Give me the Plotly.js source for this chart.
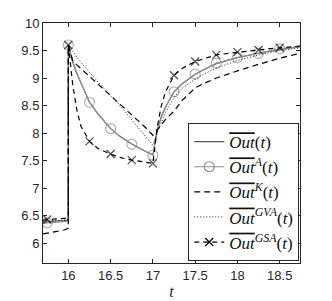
<!DOCTYPE html>
<html>
<head>
<meta charset="utf-8">
<script src="https://cdn.plot.ly/plotly-3.0.1.min.js"></script>
<style>html,body{margin:0;padding:0;background:#fff;}#chart{width:332px;height:301px;}</style>
</head>
<body>
<div id="chart"></div>
<script>
// time samples
const t = [15.7, 15.75, 15.85, 15.95, 15.999, 16, 16.05, 16.1, 16.15, 16.25, 16.35, 16.5, 16.6, 16.75, 16.9, 17, 17.05, 17.1, 17.15, 17.25, 17.35, 17.5, 17.6, 17.75, 17.9, 18, 18.25, 18.5, 18.74];
// series values
const outExact = [6.38, 6.39, 6.40, 6.41, 6.42, 9.6, 9.30, 9.08, 8.90, 8.56, 8.35, 8.08, 7.95, 7.80, 7.68, 7.60, 8.05, 8.30, 8.48, 8.75, 8.90, 9.07, 9.15, 9.26, 9.33, 9.37, 9.45, 9.52, 9.57];
const outA     = [6.36, 6.37, 6.38, 6.39, 6.40, 9.6, 9.31, 9.09, 8.91, 8.56, 8.35, 8.08, 7.95, 7.80, 7.68, 7.60, 8.04, 8.29, 8.47, 8.75, 8.90, 9.07, 9.15, 9.27, 9.33, 9.37, 9.45, 9.53, 9.57];
const outK     = [6.17, 6.18, 6.21, 6.24, 6.27, 9.6, 9.32, 9.24, 9.17, 9.03, 8.90, 8.68, 8.55, 8.33, 8.12, 7.96, 8.05, 8.15, 8.25, 8.40, 8.60, 8.82, 8.90, 9.00, 9.08, 9.13, 9.25, 9.36, 9.45];
const outGVA   = [6.40, 6.40, 6.41, 6.42, 6.43, 9.6, 9.48, 9.38, 9.28, 9.10, 8.93, 8.68, 8.52, 8.24, 7.96, 7.78, 8.00, 8.20, 8.38, 8.65, 8.82, 8.98, 9.07, 9.18, 9.27, 9.32, 9.42, 9.50, 9.55];
const outGSA   = [6.42, 6.43, 6.44, 6.45, 6.45, 9.6, 8.90, 8.42, 8.12, 7.85, 7.72, 7.62, 7.56, 7.51, 7.48, 7.45, 8.10, 8.50, 8.75, 9.05, 9.18, 9.30, 9.35, 9.42, 9.45, 9.47, 9.51, 9.55, 9.58];
const xTicks = [16, 16.5, 17, 17.5, 18, 18.5];
const yTicks = [6, 6.5, 7, 7.5, 8, 8.5, 9, 9.5, 10];
const names = [
  '<span style="text-decoration:overline"><i>Out</i></span>(<i>t</i>)',
  '<span style="text-decoration:overline"><i>Out</i></span><sup><i>A</i></sup>(<i>t</i>)',
  '<span style="text-decoration:overline"><i>Out</i></span><sup><i>K</i></sup>(<i>t</i>)',
  '<span style="text-decoration:overline"><i>Out</i></span><sup><i>GVA</i></sup>(<i>t</i>)',
  '<span style="text-decoration:overline"><i>Out</i></span><sup><i>GSA</i></sup>(<i>t</i>)'
];

// marker shown every 0.25 time units
const mk = (s) => t.map(v => Math.abs(v * 4 - Math.round(v * 4)) < 1e-6 ? s : 0);

const styles = [
  {line: {color: '#555', width: 1.2}, mode: 'lines'},
  {line: {color: '#909090', width: 1.2}, mode: 'lines+markers', marker: {symbol: 'circle-open', color: '#909090', line: {width: 1.2}}},
  {line: {color: '#000', width: 1.2, dash: '6px,4px'}, mode: 'lines'},
  {line: {color: '#000', width: 0.9, dash: '1px,2px'}, mode: 'lines'},
  {line: {color: '#000', width: 1.2, dash: '5px,4px'}, mode: 'lines+markers', marker: {symbol: 'x-thin-open', color: '#000', line: {width: 1.2, color: '#000'}}}
];
const ys = [outExact, outA, outK, outGVA, outGSA];
const msz = [0, 10, 0, 0, 8];

const data = [];
ys.forEach((y, i) => {
  const s = styles[i];
  const tr = {x: t, y: y, type: 'scatter', mode: s.mode, line: s.line, showlegend: false, hoverinfo: 'skip'};
  if (s.marker) tr.marker = Object.assign({}, s.marker, {size: mk(msz[i])});
  data.push(tr);
});
ys.forEach((y, i) => {
  const s = styles[i];
  const tr = {x: [null], y: [null], type: 'scatter', mode: s.mode, line: s.line, name: names[i], showlegend: true};
  if (s.marker) tr.marker = Object.assign({}, s.marker, {size: msz[i]});
  data.push(tr);
});

const axisCommon = {
  showline: true, linecolor: '#262626', linewidth: 1, mirror: 'ticks',
  ticks: 'inside', ticklen: 4, tickcolor: '#262626', tickwidth: 1,
  showgrid: false, zeroline: false,
  tickfont: {family: 'Liberation Sans, Arial, sans-serif', size: 13, color: '#262626'}
};

const layout = {
  width: 332, height: 301,
  margin: {l: 43, r: 32, t: 23, b: 38},
  paper_bgcolor: '#fff', plot_bgcolor: '#fff',
  xaxis: Object.assign({}, axisCommon, {
    range: [15.7, 18.74], tickvals: xTicks, ticktext: xTicks.map(String),
    title: {text: '<i>t</i>', font: {family: 'Liberation Serif, DejaVu Serif, serif', size: 16, color: '#262626'}, standoff: 4}
  }),
  yaxis: Object.assign({}, axisCommon, {
    range: [5.64, 10], tickvals: yTicks, ticktext: yTicks.map(String)
  }),
  legend: {
    x: 0.997, xanchor: 'right', y: 0.008, yanchor: 'bottom',
    bgcolor: '#fff', bordercolor: '#262626', borderwidth: 1,
    font: {family: 'Liberation Serif, DejaVu Serif, serif', size: 17, color: '#111'},
    itemwidth: 30, tracegroupgap: 0
  }
};

Plotly.newPlot('chart', data, layout, {staticPlot: true, displayModeBar: false});
</script>
</body>
</html>
